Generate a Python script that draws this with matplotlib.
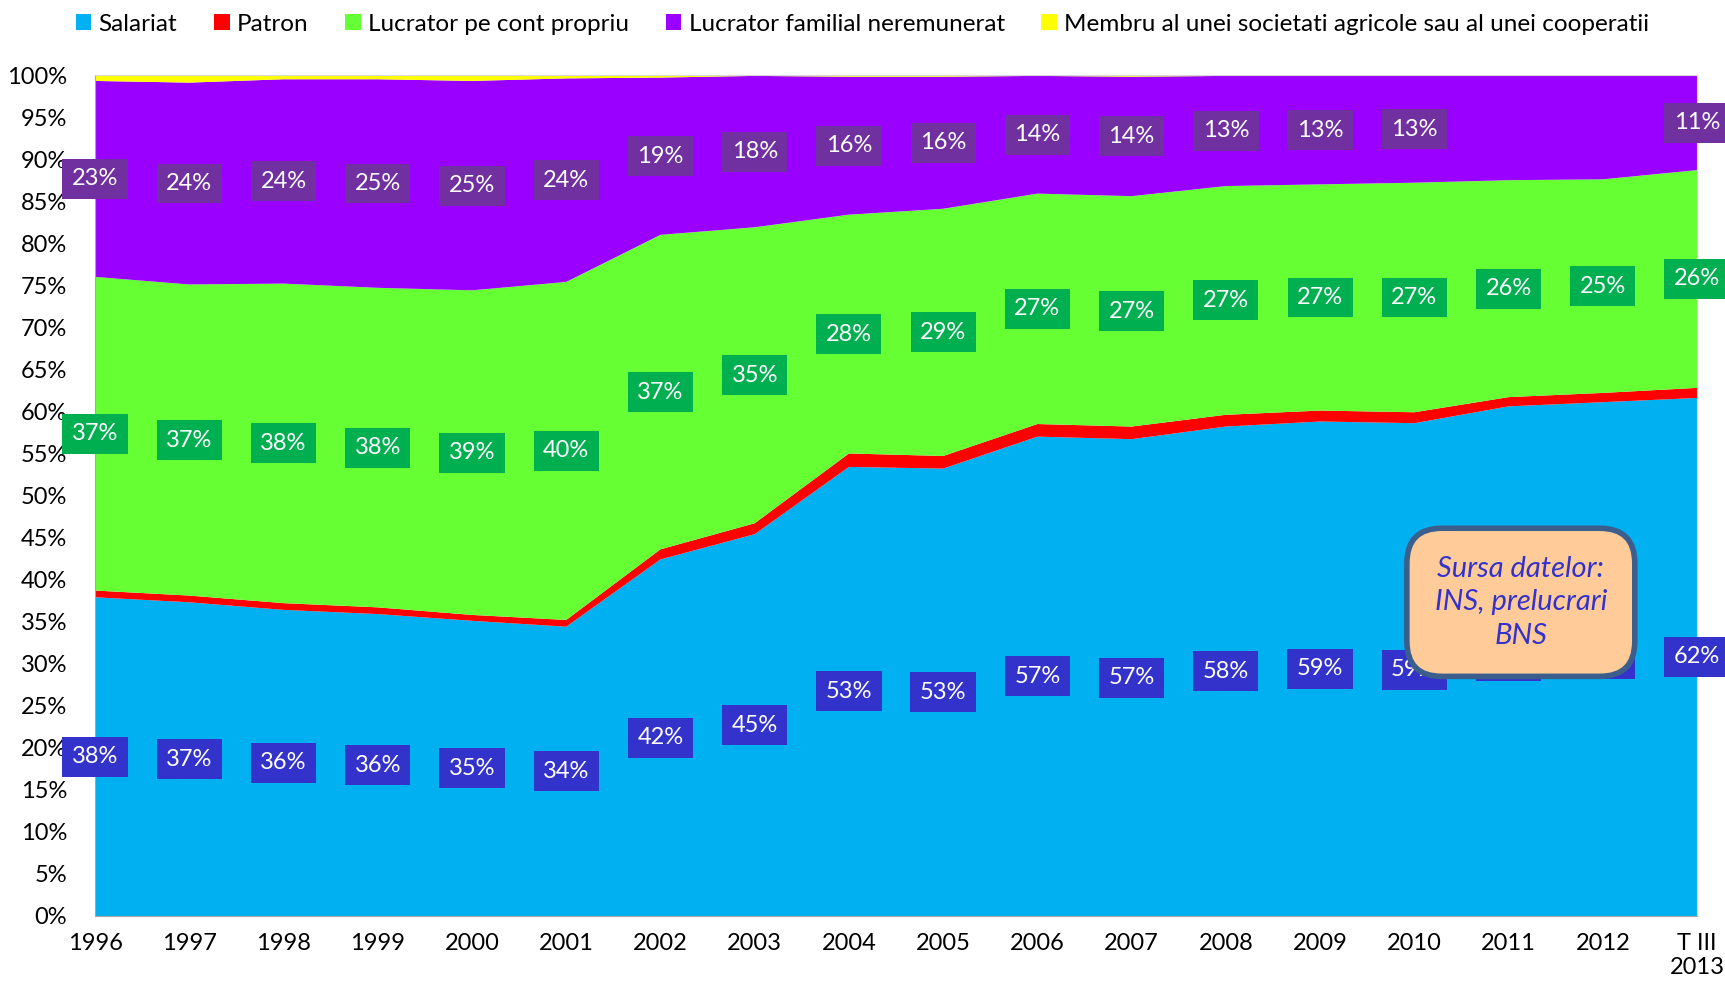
import numpy as np
import matplotlib.pyplot as plt

plt.rcParams['font.family'] = ['Lato', 'DejaVu Sans']

years = ['1996', '1997', '1998', '1999', '2000', '2001', '2002', '2003', '2004',
         '2005', '2006', '2007', '2008', '2009', '2010', '2011', '2012', 'T III\n2013']

# shares in % of employed population
salariat = [37.9, 37.3, 36.4, 35.9, 35.1, 34.4, 42.4, 45.4, 53.4,
            53.2, 57.0, 56.7, 58.2, 58.8, 58.6, 60.6, 61.1, 61.6]
patron = [0.8, 0.8, 0.8, 0.8, 0.7, 0.8, 1.2, 1.3, 1.6,
          1.5, 1.5, 1.5, 1.4, 1.3, 1.3, 1.1, 1.1, 1.2]
cont_propriu = [37.3, 37.0, 38.0, 38.0, 38.6, 40.2, 37.4, 35.2, 28.4,
                29.4, 27.4, 27.4, 27.2, 26.9, 27.3, 25.8, 25.4, 25.9]
familial = [23.3, 24.0, 24.3, 24.8, 24.9, 24.2, 18.7, 18.0, 16.4,
            15.7, 14.0, 14.2, 13.1, 12.9, 12.7, 12.4, 12.3, 11.2]
membru = [0.7, 0.9, 0.5, 0.5, 0.7, 0.4, 0.3, 0.1, 0.2,
          0.2, 0.1, 0.2, 0.1, 0.1, 0.1, 0.1, 0.1, 0.1]
# years where the "familial" label is shown
familial_shown = [True] * 15 + [False, False, True]

names = ['Salariat', 'Patron', 'Lucrator pe cont propriu',
         'Lucrator familial neremunerat',
         'Membru al unei societati agricole sau al unei cooperatii']
colors = ['#00B0F0', '#FF0000', '#66FF33', '#9900FF', '#FFFF00']

x = np.arange(len(years))

fig = plt.figure(figsize=(17.25, 9.94), dpi=100)
ax = fig.add_axes([0.0551, 0.0785, 0.9287, 0.846])

ax.stackplot(x, salariat, patron, cont_propriu, familial, membru,
             colors=colors, labels=names, linewidth=0)

ax.set_xlim(0, len(years) - 1)
ax.set_ylim(0, 100)
ax.set_yticks(range(0, 101, 5))
ax.set_yticklabels([f'{v}%' for v in range(0, 101, 5)])
ax.set_xticks(x)
ax.set_xticklabels(years, ha='center', va='top')
ax.tick_params(axis='y', length=0, pad=20, labelsize=17)
ax.tick_params(axis='x', length=0, pad=12, labelsize=17)
for side in ['left', 'bottom']:
    ax.spines[side].set_color('#A6A6A6')
for side in ['top', 'right']:
    ax.spines[side].set_color('#D9D9D9')

sal = np.array(salariat)
pat = np.array(patron)
scp = np.array(cont_propriu)
fam = np.array(familial)

def label(xi, yc, val, fc):
    ax.text(xi, yc, f'{val:.0f}%', ha='center', va='center', fontsize=17,
            color='white', zorder=5,
            bbox=dict(boxstyle='square,pad=0.4', fc=fc, ec='none'))

for i in x:
    label(i, sal[i] / 2, sal[i], '#3333CC')
    label(i, sal[i] + pat[i] + scp[i] / 2, scp[i], '#00B050')
    if familial_shown[i]:
        label(i, sal[i] + pat[i] + scp[i] + fam[i] / 2, fam[i], '#7030A0')

ax.text(0.89, 0.373, 'Sursa datelor:\nINS, prelucrari\nBNS', transform=ax.transAxes,
        ha='center', va='center', fontsize=21, style='italic', color='#3333CC',
        linespacing=1.35, zorder=10,
        bbox=dict(boxstyle='round,pad=0.95,rounding_size=1.2', fc='#FFCC99',
                  ec='#3B5E8C', lw=4))

fig.legend(loc='upper center', bbox_to_anchor=(0.5, 1.008), ncol=5, frameon=False,
           fontsize=17.5, handlelength=0.65, handleheight=0.65, handletextpad=0.3,
           columnspacing=1.5)

fig.savefig('out.png', dpi=100)
